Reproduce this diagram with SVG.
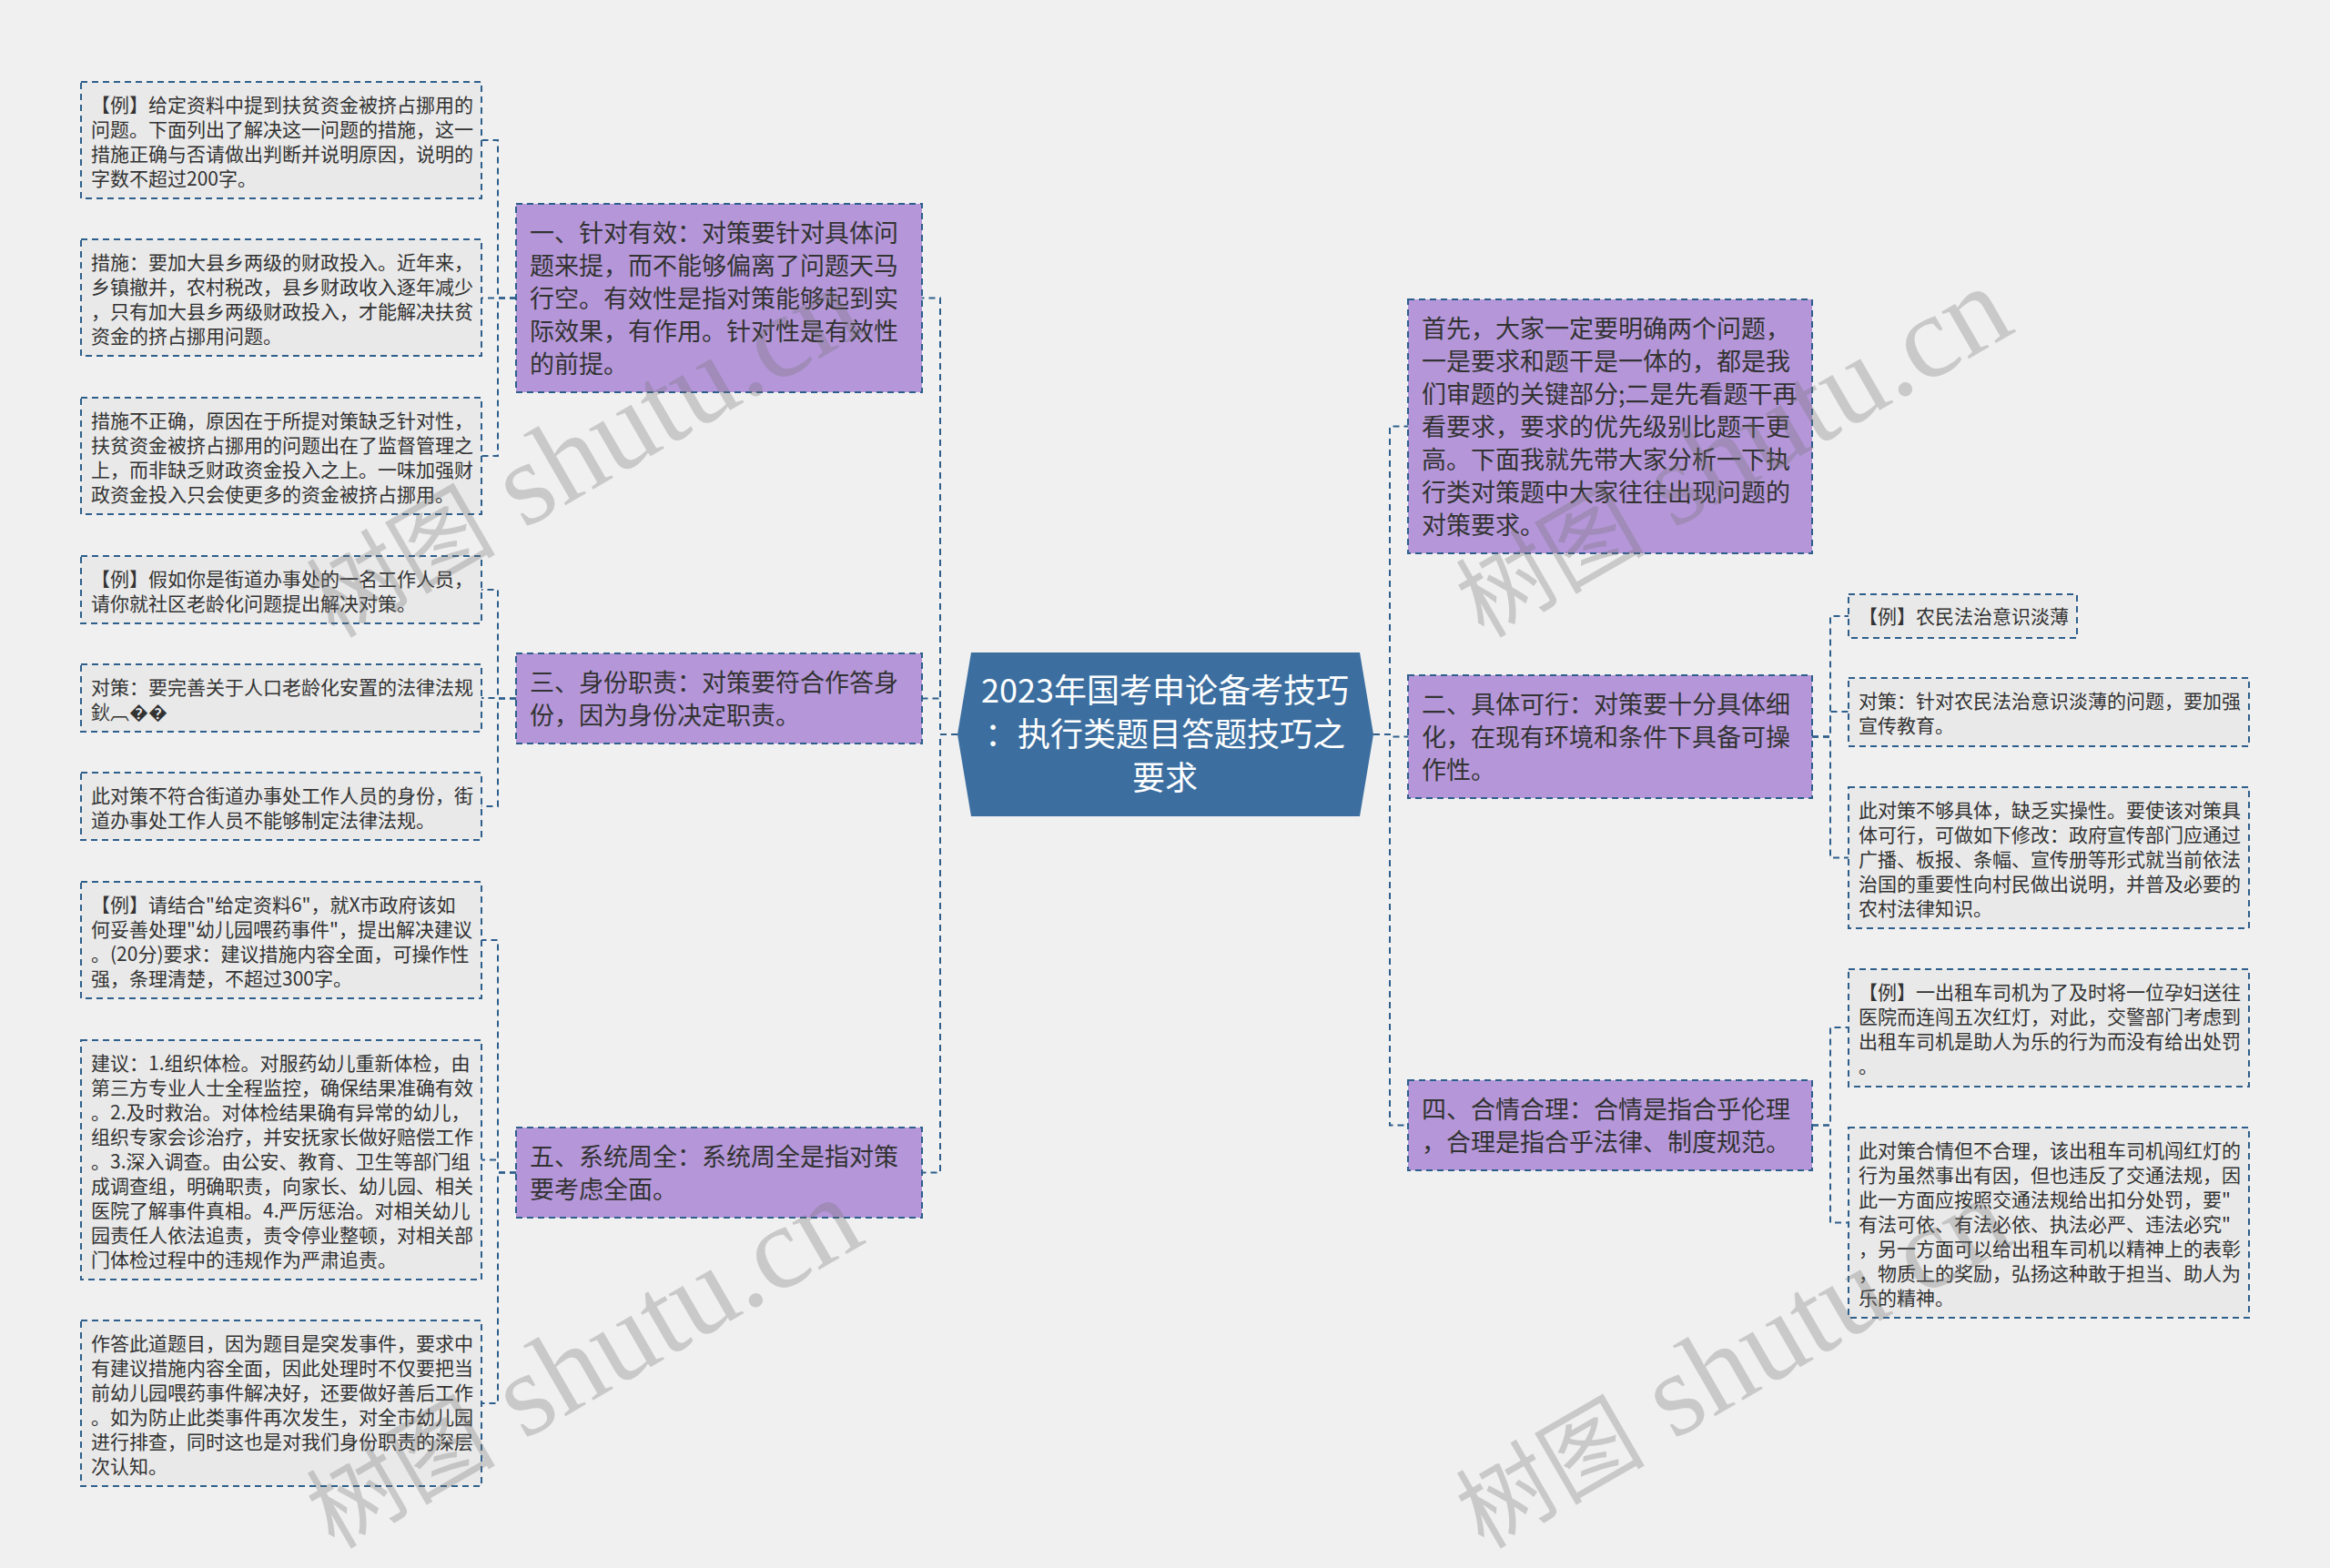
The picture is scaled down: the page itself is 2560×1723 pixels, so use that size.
<svg xmlns="http://www.w3.org/2000/svg" width="2560" height="1723" viewBox="0 0 2560 1723">
<defs>
<style>
.bg{fill:#f0f0f0}
.leaf rect{fill:#e9e9e9;stroke:#2e5f8c;stroke-width:2;stroke-dasharray:7 5}
.branch rect{fill:#b597d9;stroke:#2e5f8c;stroke-width:2;stroke-dasharray:7 5}
.lt{font-family:"Noto Sans CJK SC","Microsoft YaHei",sans-serif;font-size:21px;fill:#333}
.bt{font-family:"Noto Sans CJK SC","Microsoft YaHei",sans-serif;font-size:27px;fill:#333}
.ct{font-family:"Noto Sans CJK SC","Microsoft YaHei",sans-serif;font-size:36px;fill:#fff;text-anchor:middle}
.conn path{fill:none;stroke:#2e5f8c;stroke-width:2;stroke-dasharray:7 5}
.wm{font-family:"Liberation Serif","Noto Sans CJK SC",serif;font-size:130px;fill:#707070;fill-opacity:0.3}
.wm .cj{font-size:104px}
</style>
</defs>
<rect class="bg" x="0" y="0" width="2560" height="1723"/>

<g id="connectors" class="conn">
<path d="M1052 807H1033V327.5H1013"/>
<path d="M1052 807H1033V767.5H1013"/>
<path d="M1052 807H1033V1288.5H1013"/>
<path d="M1509 807H1527V468.5H1547"/>
<path d="M1509 807H1527V809.5H1547"/>
<path d="M1509 807H1527V1236.5H1547"/>
<path d="M567 327.5H547V154H529"/>
<path d="M567 327.5H547V327.5H529"/>
<path d="M567 327.5H547V501H529"/>
<path d="M567 767.5H547V648H529"/>
<path d="M567 767.5H547V767H529"/>
<path d="M567 767.5H547V886H529"/>
<path d="M567 1288.5H547V1033H529"/>
<path d="M567 1288.5H547V1274.5H529"/>
<path d="M567 1288.5H547V1542H529"/>
<path d="M1991 809.5H2011V677H2031"/>
<path d="M1991 809.5H2011V782H2031"/>
<path d="M1991 809.5H2011V942.5H2031"/>
<path d="M1991 1236.5H2011V1129H2031"/>
<path d="M1991 1236.5H2011V1343.5H2031"/>
</g>

<g id="center">
<polygon points="1067,717 1494,717 1509,807 1494,897 1067,897 1052,807" fill="#3c6fa0"/>
<text class="ct"><tspan x="1280" y="772">2023年国考申论备考技巧</tspan><tspan x="1280" y="820">：执行类题目答题技巧之</tspan><tspan x="1280" y="868">要求</tspan></text>
</g>

<g id="b1" class="branch">
<rect x="567" y="224" width="446" height="207"/>
<text class="bt" x="582" y="265.5"><tspan x="582">一、针对有效：对策要针对具体问</tspan><tspan x="582" dy="36">题来提，而不能够偏离了问题天马</tspan><tspan x="582" dy="36">行空。有效性是指对策能够起到实</tspan><tspan x="582" dy="36">际效果，有作用。针对性是有效性</tspan><tspan x="582" dy="36">的前提。</tspan></text>
</g>
<g id="b3" class="branch">
<rect x="567" y="718" width="446" height="99"/>
<text class="bt" x="582" y="759.5"><tspan x="582">三、身份职责：对策要符合作答身</tspan><tspan x="582" dy="36">份，因为身份决定职责。</tspan></text>
</g>
<g id="b5" class="branch">
<rect x="567" y="1239" width="446" height="99"/>
<text class="bt" x="582" y="1280.5"><tspan x="582">五、系统周全：系统周全是指对策</tspan><tspan x="582" dy="36">要考虑全面。</tspan></text>
</g>
<g id="b0" class="branch">
<rect x="1547" y="329" width="444" height="279"/>
<text class="bt" x="1562" y="370.5"><tspan x="1562">首先，大家一定要明确两个问题，</tspan><tspan x="1562" dy="36">一是要求和题干是一体的，都是我</tspan><tspan x="1562" dy="36">们审题的关键部分;二是先看题干再</tspan><tspan x="1562" dy="36">看要求，要求的优先级别比题干更</tspan><tspan x="1562" dy="36">高。下面我就先带大家分析一下执</tspan><tspan x="1562" dy="36">行类对策题中大家往往出现问题的</tspan><tspan x="1562" dy="36">对策要求。</tspan></text>
</g>
<g id="b2" class="branch">
<rect x="1547" y="742" width="444" height="135"/>
<text class="bt" x="1562" y="783.5"><tspan x="1562">二、具体可行：对策要十分具体细</tspan><tspan x="1562" dy="36">化，在现有环境和条件下具备可操</tspan><tspan x="1562" dy="36">作性。</tspan></text>
</g>
<g id="b4" class="branch">
<rect x="1547" y="1187" width="444" height="99"/>
<text class="bt" x="1562" y="1228.5"><tspan x="1562">四、合情合理：合情是指合乎伦理</tspan><tspan x="1562" dy="36">，合理是指合乎法律、制度规范。</tspan></text>
</g>

<g id="l1" class="leaf">
<rect x="89" y="90" width="440" height="128"/>
<text class="lt" x="100" y="122.5"><tspan x="100">【例】给定资料中提到扶贫资金被挤占挪用的</tspan><tspan x="100" dy="27">问题。下面列出了解决这一问题的措施，这一</tspan><tspan x="100" dy="27">措施正确与否请做出判断并说明原因，说明的</tspan><tspan x="100" dy="27">字数不超过200字。</tspan></text>
</g>
<g id="l2" class="leaf">
<rect x="89" y="263" width="440" height="128"/>
<text class="lt" x="100" y="295.5"><tspan x="100">措施：要加大县乡两级的财政投入。近年来，</tspan><tspan x="100" dy="27">乡镇撤并，农村税改，县乡财政收入逐年减少</tspan><tspan x="100" dy="27">，只有加大县乡两级财政投入，才能解决扶贫</tspan><tspan x="100" dy="27">资金的挤占挪用问题。</tspan></text>
</g>
<g id="l3" class="leaf">
<rect x="89" y="437" width="440" height="128"/>
<text class="lt" x="100" y="469.5"><tspan x="100">措施不正确，原因在于所提对策缺乏针对性，</tspan><tspan x="100" dy="27">扶贫资金被挤占挪用的问题出在了监督管理之</tspan><tspan x="100" dy="27">上，而非缺乏财政资金投入之上。一味加强财</tspan><tspan x="100" dy="27">政资金投入只会使更多的资金被挤占挪用。</tspan></text>
</g>
<g id="l4" class="leaf">
<rect x="89" y="611" width="440" height="74"/>
<text class="lt" x="100" y="643.5"><tspan x="100">【例】假如你是街道办事处的一名工作人员，</tspan><tspan x="100" dy="27">请你就社区老龄化问题提出解决对策。</tspan></text>
</g>
<g id="l5" class="leaf">
<rect x="89" y="730" width="440" height="74"/>
<text class="lt" x="100" y="762.5"><tspan x="100">对策：要完善关于人口老龄化安置的法律法规</tspan><tspan x="100" dy="27">鈥︹��</tspan></text>
</g>
<g id="l6" class="leaf">
<rect x="89" y="849" width="440" height="74"/>
<text class="lt" x="100" y="881.5"><tspan x="100">此对策不符合街道办事处工作人员的身份，街</tspan><tspan x="100" dy="27">道办事处工作人员不能够制定法律法规。</tspan></text>
</g>
<g id="l7" class="leaf">
<rect x="89" y="969" width="440" height="128"/>
<text class="lt" x="100" y="1001.5"><tspan x="100">【例】请结合"给定资料6"，就X市政府该如</tspan><tspan x="100" dy="27">何妥善处理"幼儿园喂药事件"，提出解决建议</tspan><tspan x="100" dy="27">。(20分)要求：建议措施内容全面，可操作性</tspan><tspan x="100" dy="27">强，条理清楚，不超过300字。</tspan></text>
</g>
<g id="l8" class="leaf">
<rect x="89" y="1143" width="440" height="263"/>
<text class="lt" x="100" y="1175.5"><tspan x="100">建议：1.组织体检。对服药幼儿重新体检，由</tspan><tspan x="100" dy="27">第三方专业人士全程监控，确保结果准确有效</tspan><tspan x="100" dy="27">。2.及时救治。对体检结果确有异常的幼儿，</tspan><tspan x="100" dy="27">组织专家会诊治疗，并安抚家长做好赔偿工作</tspan><tspan x="100" dy="27">。3.深入调查。由公安、教育、卫生等部门组</tspan><tspan x="100" dy="27">成调查组，明确职责，向家长、幼儿园、相关</tspan><tspan x="100" dy="27">医院了解事件真相。4.严厉惩治。对相关幼儿</tspan><tspan x="100" dy="27">园责任人依法追责，责令停业整顿，对相关部</tspan><tspan x="100" dy="27">门体检过程中的违规作为严肃追责。</tspan></text>
</g>
<g id="l9" class="leaf">
<rect x="89" y="1451" width="440" height="182"/>
<text class="lt" x="100" y="1483.5"><tspan x="100">作答此道题目，因为题目是突发事件，要求中</tspan><tspan x="100" dy="27">有建议措施内容全面，因此处理时不仅要把当</tspan><tspan x="100" dy="27">前幼儿园喂药事件解决好，还要做好善后工作</tspan><tspan x="100" dy="27">。如为防止此类事件再次发生，对全市幼儿园</tspan><tspan x="100" dy="27">进行排查，同时这也是对我们身份职责的深层</tspan><tspan x="100" dy="27">次认知。</tspan></text>
</g>

<g id="r1" class="leaf">
<rect x="2031" y="653" width="251" height="48"/>
<text class="lt" x="2042" y="685"><tspan x="2042">【例】农民法治意识淡薄</tspan></text>
</g>
<g id="r2" class="leaf">
<rect x="2031" y="745" width="440" height="75"/>
<text class="lt" x="2042" y="777.5"><tspan x="2042">对策：针对农民法治意识淡薄的问题，要加强</tspan><tspan x="2042" dy="27">宣传教育。</tspan></text>
</g>
<g id="r3" class="leaf">
<rect x="2031" y="865" width="440" height="155"/>
<text class="lt" x="2042" y="897.5"><tspan x="2042">此对策不够具体，缺乏实操性。要使该对策具</tspan><tspan x="2042" dy="27">体可行，可做如下修改：政府宣传部门应通过</tspan><tspan x="2042" dy="27">广播、板报、条幅、宣传册等形式就当前依法</tspan><tspan x="2042" dy="27">治国的重要性向村民做出说明，并普及必要的</tspan><tspan x="2042" dy="27">农村法律知识。</tspan></text>
</g>
<g id="r4" class="leaf">
<rect x="2031" y="1065" width="440" height="129"/>
<text class="lt" x="2042" y="1097.5"><tspan x="2042">【例】一出租车司机为了及时将一位孕妇送往</tspan><tspan x="2042" dy="27">医院而连闯五次红灯，对此，交警部门考虑到</tspan><tspan x="2042" dy="27">出租车司机是助人为乐的行为而没有给出处罚</tspan><tspan x="2042" dy="27">。</tspan></text>
</g>
<g id="r5" class="leaf">
<rect x="2031" y="1239" width="440" height="209"/>
<text class="lt" x="2042" y="1271.5"><tspan x="2042">此对策合情但不合理，该出租车司机闯红灯的</tspan><tspan x="2042" dy="27">行为虽然事出有因，但也违反了交通法规，因</tspan><tspan x="2042" dy="27">此一方面应按照交通法规给出扣分处罚，要"</tspan><tspan x="2042" dy="27">有法可依、有法必依、执法必严、违法必究"</tspan><tspan x="2042" dy="27">，另一方面可以给出租车司机以精神上的表彰</tspan><tspan x="2042" dy="27">，物质上的奖励，弘扬这种敢于担当、助人为</tspan><tspan x="2042" dy="27">乐的精神。</tspan></text>
</g>

<g id="watermarks">
<text class="wm" transform="translate(367 702) rotate(-30)"><tspan class="cj">树图</tspan> shutu.cn</text>
<text class="wm" transform="translate(1630 702) rotate(-30)"><tspan class="cj">树图</tspan> shutu.cn</text>
<text class="wm" transform="translate(367 1703) rotate(-30)"><tspan class="cj">树图</tspan> shutu.cn</text>
<text class="wm" transform="translate(1630 1703) rotate(-30)"><tspan class="cj">树图</tspan> shutu.cn</text>
</g>
</svg>
